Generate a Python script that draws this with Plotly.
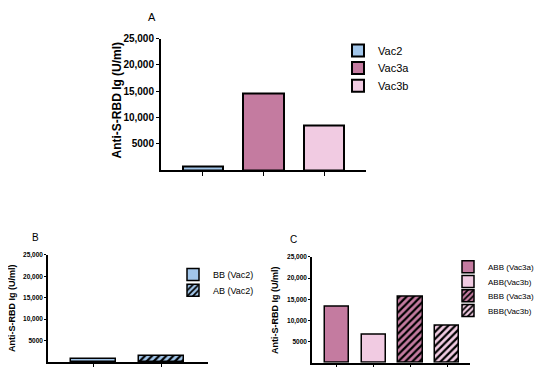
import plotly.graph_objects as go

# ---- data ----
a_names = ["Vac2", "Vac3a", "Vac3b"]
a_values = [700, 14500, 8400]

b_names = ["BB (Vac2)", "AB (Vac2)"]
b_values = [700, 1500]

c_names = ["ABB (Vac3a)", "ABB(Vac3b)", "BBB (Vac3a)", "BBB(Vac3b)"]
c_values = [13300, 6500, 15500, 8800]

y_tickvals = [5000, 10000, 15000, 20000, 25000]
y_ticktext = ["5000", "10,000", "15,000", "20,000", "25,000"]

BLUE = "#a2c6ea"
MAUVE = "#c47ba0"
PINK = "#f1cbe2"

a_colors = [BLUE, MAUVE, PINK]
a_hatch = ["", "", ""]
b_colors = [BLUE, BLUE]
b_hatch = ["", "/"]
c_colors = [MAUVE, PINK, MAUVE, PINK]
c_hatch = ["", "", "/", "/"]

FONT = "Liberation Sans, Arial, sans-serif"
# the html body has an 8px default margin on every side; keep the figure
# inside the window so that the page does not overflow
OX, OY = 8, 8
W, H = 550 - 2 * OX, 375 - 2 * OY

def px(x):
    return (x - OX) / W

def py(y):
    return 1 - (y - OY) / H

fig = go.Figure()
legend_layout = {}
legend_count = [0]

def add_bars(names, values, colors, hatches, xa, ya, lw, psize,
             leg_text_x, leg_rows, leg_size):
    for i, (n, v, c, h) in enumerate(zip(names, values, colors, hatches)):
        legend_count[0] += 1
        k = legend_count[0]
        lname = "legend" if k == 1 else f"legend{k}"
        fig.add_trace(go.Bar(
            x=[i], y=[v], name=n, width=0.66,
            xaxis=xa, yaxis=ya, legend=lname,
            marker=dict(color=c, line=dict(color="black", width=lw),
                        pattern=dict(shape=h, fgcolor="black", bgcolor=c,
                                     size=psize, solidity=0.45, fillmode="replace")),
            showlegend=True,
        ))
        legend_layout[lname] = dict(
            x=px(leg_text_x - 40), y=py(leg_rows[i]), xanchor="left", yanchor="middle",
            font=dict(family=FONT, size=leg_size, color="black"), itemwidth=30,
            bgcolor="rgba(0,0,0,0)", borderwidth=0,
        )

add_bars(a_names, a_values, a_colors, a_hatch, "x", "y", 2, 6, 378, [45, 63, 81], 11)
add_bars(b_names, b_values, b_colors, b_hatch, "x2", "y2", 1.5, 5, 213, [273, 289], 9)
add_bars(c_names, c_values, c_colors, c_hatch, "x3", "y3", 1.5, 5, 488, [265, 280, 294.5, 309.5], 8)

def xaxis(dom, rng, lw, tl, anchor):
    return dict(domain=dom, range=rng, showline=True, linecolor="black", linewidth=lw,
                ticks="outside", ticklen=tl, tickwidth=1, tickcolor="black",
                showticklabels=False, showgrid=False, zeroline=False,
                tickmode="linear", tick0=0, dtick=1, anchor=anchor)

def yaxis(dom, lw, tl, fs, anchor):
    return dict(domain=dom, range=[0, 25000], showline=True, linecolor="black", linewidth=lw,
                ticks="outside", ticklen=tl, tickwidth=1, tickcolor="black",
                tickvals=y_tickvals, ticktext=y_ticktext,
                tickfont=dict(family=FONT, size=fs, color="black", weight="bold"),
                showgrid=False, zeroline=False, anchor=anchor, ticklabelstandoff=0)

fig.update_layout(
    width=W, height=H, margin=dict(l=0, r=0, t=0, b=0),
    paper_bgcolor="white", plot_bgcolor="white",
    barmode="overlay", bargap=0,
    font=dict(family=FONT, color="black"),
    xaxis=xaxis([px(161), px(366)], [-0.69, 2.69], 2, 4, "y"),
    yaxis=yaxis([py(167), py(33)], 2, 3, 10, "x"),
    xaxis2=xaxis([px(48), px(208)], [-0.66, 1.68], 1.5, 3, "y2"),
    yaxis2=yaxis([py(362), py(253)], 1.5, 2, 6.5, "x2"),
    xaxis3=xaxis([px(312), px(470)], [-0.68, 3.62], 1.5, 3, "y3"),
    yaxis3=yaxis([py(362.7), py(255)], 1.5, 2, 6.5, "x3"),
    showlegend=True,
)
fig.update_layout(**legend_layout)

annotations = [
    dict(text="A", x=px(152), y=py(11), font=dict(size=11)),
    dict(text="B", x=px(35), y=py(235), font=dict(size=10)),
    dict(text="C", x=px(293), y=py(237), font=dict(size=10)),
    dict(text="Anti-S-RBD Ig (U/ml)", x=px(117), y=py(96), textangle=-90,
         font=dict(size=12, weight="bold")),
    dict(text="Anti-S-RBD Ig (U/ml)", x=px(12), y=py(307), textangle=-90,
         font=dict(size=9, weight="bold")),
    dict(text="Anti-S-RBD Ig (U/ml)", x=px(275), y=py(309), textangle=-90,
         font=dict(size=9, weight="bold")),
]
for a in annotations:
    a.update(xref="paper", yref="paper", showarrow=False, xanchor="center", yanchor="middle")
    a["font"] = dict(family=FONT, color="black", **a["font"])
fig.update_layout(annotations=annotations)

fig.write_html("out.html")
